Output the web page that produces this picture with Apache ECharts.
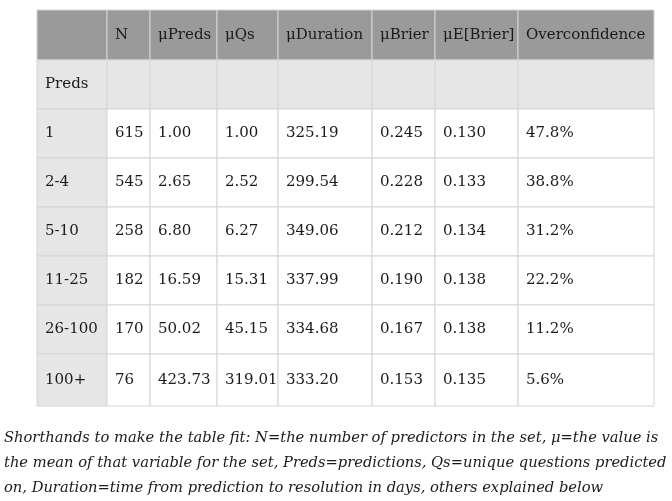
<!DOCTYPE html>
<html><head><meta charset="utf-8">
<script src="https://cdn.jsdelivr.net/npm/echarts@6/dist/echarts.min.js"></script>
<style>html,body{margin:0;padding:0;background:#fff}#c{width:672px;height:501px}</style>
</head><body><div id="c"></div>
<script>
const headers = ['', 'N', 'μPreds', 'μQs', 'μDuration', 'μBrier', 'μE[Brier]', 'Overconfidence'];
const groups = ['1', '2-4', '5-10', '11-25', '26-100', '100+'];
const nCount = ['615', '545', '258', '182', '170', '76'];
const muPreds = ['1.00', '2.65', '6.80', '16.59', '50.02', '423.73'];
const muQs = ['1.00', '2.52', '6.27', '15.31', '45.15', '319.01'];
const muDuration = ['325.19', '299.54', '349.06', '337.99', '334.68', '333.20'];
const muBrier = ['0.245', '0.228', '0.212', '0.190', '0.167', '0.153'];
const muEBrier = ['0.130', '0.133', '0.134', '0.138', '0.138', '0.135'];
const overconf = ['47.8%', '38.8%', '31.2%', '22.2%', '11.2%', '5.6%'];
const caption = [
  'Shorthands to make the table fit: N=the number of predictors in the set, μ=the value is',
  'the mean of that variable for the set, Preds=predictions, Qs=unique questions predicted',
  'on, Duration=time from prediction to resolution in days, others explained below'
];

// layout
const colX = [37, 107, 150, 217, 278, 372, 435, 518, 654];
const rowY = [10, 60, 109, 158, 207, 256, 305, 354, 406];
const FONT = '"DejaVu Serif", serif';

const rows = [headers, ['Preds', '', '', '', '', '', '', '']];
groups.forEach((g, i) => rows.push([g, nCount[i], muPreds[i], muQs[i], muDuration[i], muBrier[i], muEBrier[i], overconf[i]]));

const els = [];
rows.forEach((row, r) => {
  row.forEach((txt, c) => {
    const x = colX[c], y = rowY[r], w = colX[c + 1] - x, h = rowY[r + 1] - y;
    let fill = '#fff';
    if (r === 0) fill = '#9a9a9a';
    else if (r === 1 || c === 0) fill = '#e6e6e6';
    els.push({ type: 'rect', shape: { x, y, width: w, height: h },
      style: { fill, stroke: '#d4d4d4', lineWidth: 1 } });
    if (txt) els.push({ type: 'text', x: x + 8, y: y + h / 2,
      style: { text: txt, fill: '#1a1a1a', font: '15px ' + FONT, verticalAlign: 'middle' } });
  });
});
caption.forEach((line, i) => els.push({ type: 'text', x: 4, y: 438 + i * 25,
  style: { text: line, fill: '#1a1a1a', font: 'italic 14.7px ' + FONT, verticalAlign: 'middle' } }));

const chart = echarts.init(document.getElementById('c'));
chart.setOption({ animation: false, graphic: els });
</script></body></html>
